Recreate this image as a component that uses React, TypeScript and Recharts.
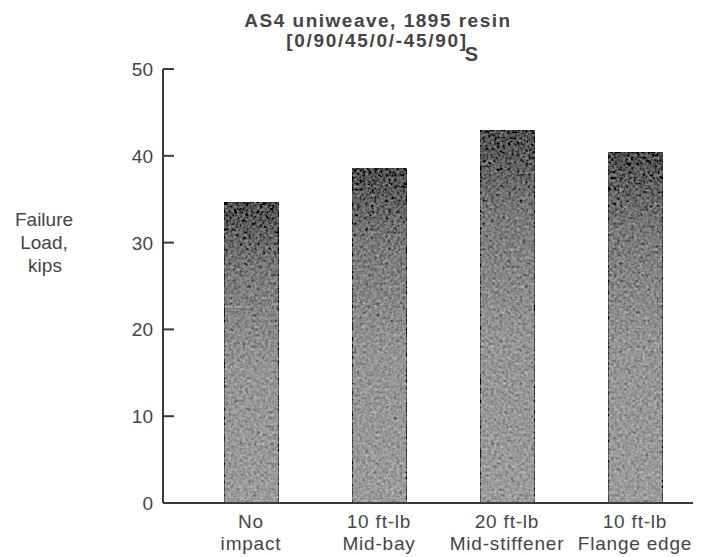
import { BarChart, Bar, XAxis, YAxis } from 'recharts'

const categories = [
  ['No', 'impact'],
  ['10 ft-lb', 'Mid-bay'],
  ['20 ft-lb', 'Mid-stiffener'],
  ['10 ft-lb', 'Flange edge'],
]
const failureLoad = [34.6, 38.5, 42.9, 40.4]
const yTicks = [0, 10, 20, 30, 40, 50]

const data = categories.map((c, i) => ({ name: c.join(' '), load: failureLoad[i] }))

const FONT = '"Liberation Sans", Arial, Helvetica, sans-serif'
const INK = '#3a3a3a'
const TEXT = '#454545'
const AXIS_X = 163

function YTick({ y, payload }: any) {
  return (
    <g>
      <line x1={AXIS_X} x2={AXIS_X + 11} y1={y} y2={y} stroke={INK} strokeWidth={2} />
      <text x={AXIS_X - 10} y={y} dy={7} textAnchor="end" fontSize={19} fontFamily={FONT} fill={TEXT}>
        {payload.value}
      </text>
    </g>
  )
}

function XTick({ x, y, index }: any) {
  const lines = categories[index] || []
  return (
    <text x={x} y={y} textAnchor="middle" fontSize={19} fontFamily={FONT} fill={TEXT} letterSpacing={0.8}>
      {lines.map((l, i) => (
        <tspan key={i} x={x} dy={i === 0 ? 17 : 22}>
          {l}
        </tspan>
      ))}
    </text>
  )
}

// grainy printed-halftone look for the bars
function GrainBar(props: any) {
  const { x, y, width, height } = props
  return (
    <rect
      x={x}
      y={y}
      width={width}
      height={height}
      fill="url(#barFill)"
      stroke={INK}
      strokeWidth={1.5}
      filter="url(#grain)"
    />
  )
}

export default function App() {
  return (
    <div style={{ position: 'absolute', left: 0, top: 0, background: '#fff' }}>
      <BarChart width={705} height={557} data={data} margin={{ top: 69, right: 12, left: 0, bottom: 0 }}>
        <defs>
          <linearGradient id="barFill" x1="0" y1="0" x2="0" y2="1">
            <stop offset="0%" stopColor="#505050" />
            <stop offset="22%" stopColor="#7a7a7a" />
            <stop offset="55%" stopColor="#959595" />
            <stop offset="100%" stopColor="#9c9c9c" />
          </linearGradient>
          <filter id="grain" x="0" y="0" width="100%" height="100%">
            <feTurbulence type="fractalNoise" baseFrequency="0.35" numOctaves="3" seed="4" result="noise" />
            <feColorMatrix
              in="noise"
              type="matrix"
              values="0.33 0.33 0.33 0 0  0.33 0.33 0.33 0 0  0.33 0.33 0.33 0 0  0 0 0 0 1"
              result="gray"
            />
            <feComposite in="SourceGraphic" in2="gray" operator="arithmetic" k1="0" k2="1" k3="0.8" k4="-0.4" result="mix" />
            <feComposite in="mix" in2="SourceGraphic" operator="in" />
          </filter>
        </defs>
        <XAxis
          dataKey="name"
          height={54}
          tickLine={false}
          axisLine={{ stroke: INK, strokeWidth: 2 }}
          tick={<XTick />}
          interval={0}
          padding={{ left: 24, right: -6 }}
        />
        <YAxis
          width={AXIS_X}
          domain={[0, 50]}
          ticks={yTicks}
          tickLine={false}
          axisLine={{ stroke: INK, strokeWidth: 2 }}
          tick={<YTick />}
          interval={0}
        />
        <Bar dataKey="load" barSize={55} shape={GrainBar} isAnimationActive={false} />
        <text x={378} y={27} textAnchor="middle" fontSize={19} fontWeight={700} fontFamily={FONT} fill={TEXT} letterSpacing={1.5}>
          AS4 uniweave, 1895 resin
        </text>
        <text x={383} y={47} textAnchor="middle" fontSize={19} fontWeight={700} fontFamily={FONT} fill={TEXT} letterSpacing={1.7}>
          [0/90/45/0/-45/90]
          <tspan dy={14} dx={-3} fontSize={20}>S</tspan>
        </text>
        <text x={44} y={226} textAnchor="middle" fontSize={19} fontFamily={FONT} fill={TEXT}>
          <tspan x={44}>Failure</tspan>
          <tspan x={44} dy={23}>Load,</tspan>
          <tspan x={45} dy={23}>kips</tspan>
        </text>
      </BarChart>
    </div>
  )
}
